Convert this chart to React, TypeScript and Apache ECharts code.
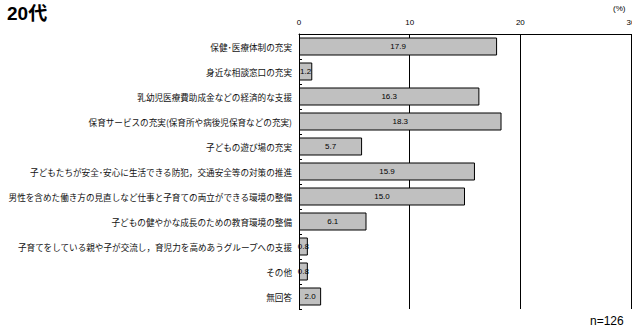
import React, { useEffect, useRef } from "react";
import * as echarts from "echarts";

const categories = [
  "保健･医療体制の充実",
  "身近な相談窓口の充実",
  "乳幼児医療費助成金などの経済的な支援",
  "保育サービスの充実(保育所や病後児保育などの充実)",
  "子どもの遊び場の充実",
  "子どもたちが安全･安心に生活できる防犯，交通安全等の対策の推進",
  "男性を含めた働き方の見直しなど仕事と子育ての両立ができる環境の整備",
  "子どもの健やかな成長のための教育環境の整備",
  "子育てをしている親や子が交流し，育児力を高めあうグループへの支援",
  "その他",
  "無回答",
];
const values = [17.9, 1.2, 16.3, 18.3, 5.7, 15.9, 15.0, 6.1, 0.8, 0.8, 2.0];
const xTicks = [0, 10, 20, 30];

export default function App() {
  const ref = useRef<HTMLDivElement>(null);
  useEffect(() => {
    if (!ref.current) return;
    const chart = echarts.init(ref.current, undefined, { renderer: "svg" });
    const font = "'Noto Sans CJK JP', 'Liberation Sans', sans-serif";
    chart.setOption({
      animation: false,
      backgroundColor: "#fff",
      textStyle: { fontFamily: font },
      grid: {
        left: 299,
        right: 1,
        top: 34,
        bottom: 23,
        containLabel: false,
        outerBoundsMode: "none",
      },
      xAxis: {
        type: "value",
        position: "top",
        min: xTicks[0],
        max: xTicks[xTicks.length - 1],
        interval: 10,
        axisLine: { show: true, lineStyle: { color: "#000", width: 1 } },
        axisTick: { show: false },
        axisLabel: {
          margin: 8,
          fontSize: 8,
          color: "#000",
          fontFamily: "'Liberation Sans', Arial, sans-serif",
        },
        splitLine: { show: true, lineStyle: { color: "#000", width: 1 } },
      },
      yAxis: {
        type: "category",
        data: categories,
        inverse: true,
        axisLine: { show: true, lineStyle: { color: "#000", width: 1 } },
        axisTick: { show: true, inside: true, length: 3, lineStyle: { color: "#000" } },
        axisLabel: { fontSize: 8.6, color: "#111", margin: 7, fontFamily: font },
        splitLine: { show: false },
      },
      series: [
        {
          type: "bar",
          data: values,
          barWidth: 18,
          itemStyle: { color: "#c0c0c0", borderColor: "#000", borderWidth: 1 },
          label: {
            show: true,
            position: "inside",
            fontSize: 8,
            color: "#000",
            fontFamily: "'Liberation Sans', Arial, sans-serif",
            formatter: (p: any) => Number(p.value).toFixed(1),
          },
        },
      ],
      graphic: [
        {
          type: "text",
          left: 7,
          top: 4,
          style: {
            text: "20代",
            font: "bold 19px 'Liberation Sans', 'Noto Sans CJK JP', sans-serif",
            fill: "#000",
          },
        },
        {
          type: "text",
          left: 613,
          top: 4,
          style: {
            text: "(%)",
            font: "8px 'Liberation Sans', sans-serif",
            fill: "#000",
          },
        },
        {
          type: "text",
          left: 590,
          top: 315,
          style: {
            text: "n=126",
            font: "12px 'Liberation Sans', Arial, sans-serif",
            fill: "#000",
          },
        },
      ],
    });
    return () => chart.dispose();
  }, []);
  return (
    <div
      ref={ref}
      style={{ position: "fixed", left: 0, top: 0, width: 632, height: 332 }}
    />
  );
}
